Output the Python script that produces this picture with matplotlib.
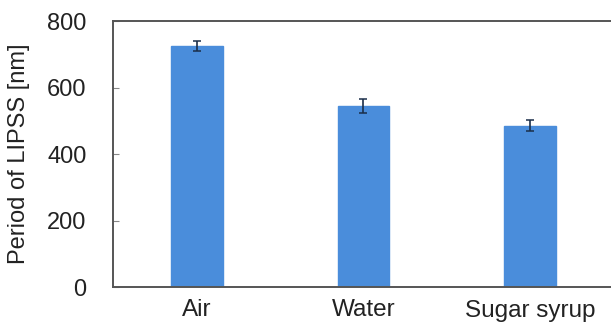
import matplotlib
matplotlib.use("Agg")
import matplotlib.pyplot as plt

categories = ["Air", "Water", "Sugar syrup"]
period_nm = [724, 543, 485]
error_nm = [15, 21, 17]
yticks = [0, 200, 400, 600, 800]

plt.rcParams['font.family'] = ['Liberation Sans', 'DejaVu Sans']

fig = plt.figure(figsize=(6.11, 3.29), dpi=100)
W, H = 611, 329
ax = fig.add_axes([113 / W, 1 - 287 / H, 500 / W, (287 - 21) / H])

x = list(range(len(categories)))
ax.bar(x, period_nm, width=0.31, color="#4a8ddb", edgecolor="#4a8ddb", zorder=2)
ax.errorbar(x, period_nm, yerr=error_nm, fmt="none", ecolor="#1b2f4a",
            elinewidth=1.2, capsize=3, capthick=1.1, zorder=3)

ax.set_xlim(-0.505, 2.5)
ax.set_ylim(0, 800)
ax.set_yticks(yticks)
ax.set_xticks(x)
ax.set_xticklabels(categories)
ax.tick_params(axis='y', direction='in', length=4, width=0.8, color="#888888",
               pad=19, labelsize=17, labelcolor="#222222")
ax.tick_params(axis='x', length=0, pad=9, labelsize=17.5, labelcolor="#222222")
ax.set_ylabel("Period of LIPSS [nm]", fontsize=17, color="#222222", labelpad=12)

for s in ["top", "left", "bottom"]:
    ax.spines[s].set_color("#555555")
    ax.spines[s].set_linewidth(1.4)
ax.spines["right"].set_visible(False)

fig.savefig("out.png", dpi=100)
